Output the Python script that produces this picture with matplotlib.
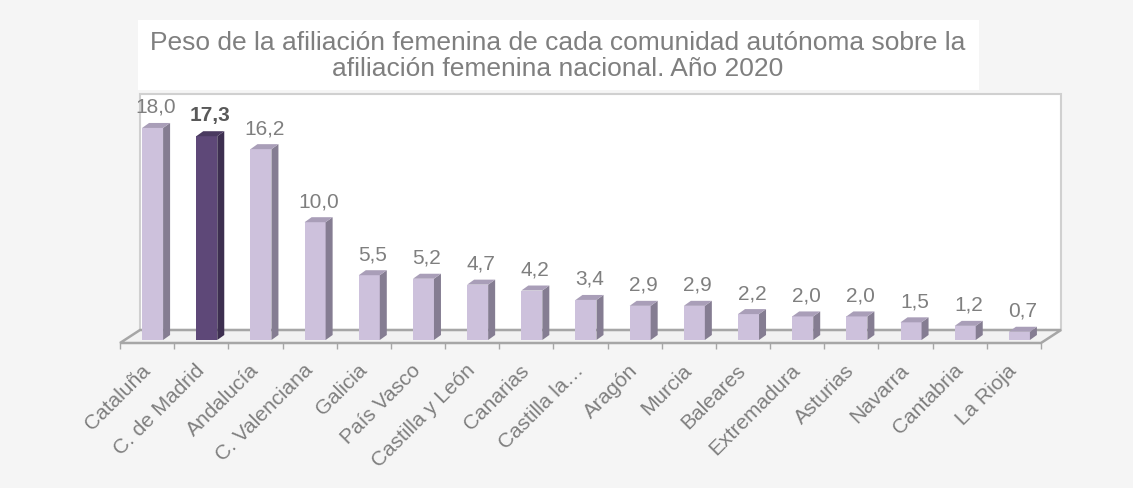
import matplotlib.pyplot as plt
from matplotlib.patches import Polygon, Rectangle

plt.rcParams['font.family'] = ['Liberation Sans', 'DejaVu Sans']

comunidades = ['Cataluña', 'C. de Madrid', 'Andalucía', 'C. Valenciana', 'Galicia',
               'País Vasco', 'Castilla y León', 'Canarias', 'Castilla la…', 'Aragón',
               'Murcia', 'Baleares', 'Extremadura', 'Asturias', 'Navarra', 'Cantabria',
               'La Rioja']
peso = [18.0, 17.3, 16.2, 10.0, 5.5, 5.2, 4.7, 4.2, 3.4, 2.9, 2.9, 2.2, 2.0, 2.0, 1.5, 1.2, 0.7]
destacado = 'C. de Madrid'

W, H = 1133, 489
fig = plt.figure(figsize=(W / 100, H / 100), dpi=100, facecolor='#f5f5f5')

# plot area in pixels (front edge of the floor is the x axis)
left_px, right_px, front_px, top_px = 120, 1041, 344, 95
base_px = 341          # bar bottoms
ppu_y = 11.78          # pixels per data unit
n = len(comunidades)
ppu_x = (right_px - left_px) / n

ax = fig.add_axes([left_px / W, (H - front_px) / H, (right_px - left_px) / W, (front_px - top_px) / H])
y_front = -(front_px - base_px) / ppu_y
y_top = (base_px - top_px) / ppu_y
ax.set_xlim(0, n)
ax.set_ylim(y_front, y_top)
ax.patch.set_alpha(0)
for s in ax.spines.values():
    s.set_visible(False)

# depth of the floor and of the bars, in data units
dxf, dyf = 20 / ppu_x, 13 / ppu_y
dxb, dyb = 7 / ppu_x, 5 / ppu_y
shift = 5.5 / ppu_x
bw = 21 / ppu_x

# back wall
ax.add_patch(Rectangle((dxf, y_front + dyf), n, y_top - y_front - dyf, facecolor='white',
                       edgecolor='#d0d0d0', lw=1.5, clip_on=False, zorder=0))
# floor
ax.add_patch(Polygon([(0, y_front), (n, y_front), (n + dxf, y_front + dyf), (dxf, y_front + dyf)],
                     closed=True, facecolor='#f2f2f2', edgecolor='#a6a6a6', lw=1.8,
                     clip_on=False, zorder=1))

for i, (nombre, v) in enumerate(zip(comunidades, peso)):
    if nombre == destacado:
        cf, cs, ct = '#5e4878', '#3d2f50', '#4a3a60'
    else:
        cf, cs, ct = '#cdc1dc', '#857d92', '#a99eb8'
    x0 = i + 0.5 - bw / 2 + shift
    x1 = x0 + bw
    ax.add_patch(Polygon([(x0, 0), (x1, 0), (x1, v), (x0, v)], closed=True,
                         facecolor=cf, edgecolor='none', zorder=3, clip_on=False))
    ax.add_patch(Polygon([(x1, 0), (x1 + dxb, dyb), (x1 + dxb, v + dyb), (x1, v)], closed=True,
                         facecolor=cs, edgecolor='none', zorder=3, clip_on=False))
    ax.add_patch(Polygon([(x0, v), (x1, v), (x1 + dxb, v + dyb), (x0 + dxb, v + dyb)], closed=True,
                         facecolor=ct, edgecolor='none', zorder=3, clip_on=False))
    etiqueta = f'{v:.1f}'.replace('.', ',')
    bold = nombre == destacado
    ax.text(i + 0.5 + shift + dxb / 2, v + dyb + 11 / ppu_y, etiqueta, ha='center', va='baseline',
            fontsize=15, color='#595959' if bold else '#7f7f7f',
            fontweight='bold' if bold else 'normal', clip_on=False, zorder=4)

ax.set_yticks([])
ax.set_xticks(range(n + 1), minor=True)
ax.set_xticks([i + 0.5 for i in range(n)])
ax.set_xticklabels(comunidades, rotation=45, ha='right', va='center', rotation_mode='anchor',
                   fontsize=15, color='#7f7f7f')
ax.tick_params(axis='x', which='major', length=0, pad=17)
ax.tick_params(axis='x', which='minor', length=4.5, width=1, color='#a6a6a6')

# title box
fig.patches.append(Rectangle((138 / W, (H - 91) / H), (979 - 138) / W, 70 / H,
                             transform=fig.transFigure, facecolor='white', edgecolor='none'))
fig.text(558 / W, 1 - 56 / H,
         'Peso de la afiliación femenina de cada comunidad autónoma sobre la\n'
         'afiliación femenina nacional. Año 2020',
         ha='center', va='center', fontsize=19, color='#7f7f7f', linespacing=1.15)

fig.savefig('out.png', dpi=100, facecolor=fig.get_facecolor())
